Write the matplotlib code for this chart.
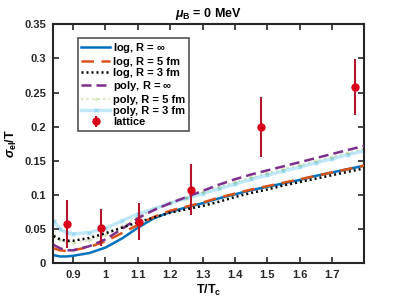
import numpy as np
import matplotlib
matplotlib.use('Agg')
import matplotlib.pyplot as plt

plt.rcParams['font.family'] = ['Liberation Sans', 'DejaVu Sans']
plt.rcParams['font.weight'] = 'bold'
plt.rcParams['mathtext.fontset'] = 'custom'
plt.rcParams['mathtext.it'] = 'Liberation Sans:italic:bold'
plt.rcParams['mathtext.rm'] = 'Liberation Sans:bold'

# T/Tc grid and curves
t = [0.84, 0.86, 0.88, 0.9, 0.95, 1.0, 1.05, 1.1, 1.15, 1.2, 1.25, 1.3, 1.35,
     1.4, 1.45, 1.5, 1.55, 1.6, 1.65, 1.7, 1.75, 1.8]
log_inf = [0.012, 0.010, 0.010, 0.011, 0.015, 0.023, 0.036, 0.052, 0.066, 0.075, 0.082,
           0.088, 0.095, 0.101, 0.107, 0.112, 0.117, 0.122, 0.128, 0.133, 0.138, 0.143]
log_5 = [0.022, 0.019, 0.018, 0.019, 0.024, 0.032, 0.044, 0.056, 0.068, 0.077, 0.083,
         0.089, 0.096, 0.102, 0.108, 0.113, 0.118, 0.123, 0.128, 0.133, 0.138, 0.143]
log_3 = [0.040, 0.035, 0.033, 0.033, 0.037, 0.044, 0.052, 0.060, 0.067, 0.074, 0.079,
         0.084, 0.090, 0.097, 0.103, 0.108, 0.114, 0.119, 0.124, 0.129, 0.134, 0.139]
poly_inf = [0.027, 0.022, 0.019, 0.019, 0.025, 0.035, 0.050, 0.066, 0.078, 0.088, 0.097,
            0.106, 0.115, 0.123, 0.130, 0.136, 0.142, 0.148, 0.154, 0.160, 0.166, 0.172]
poly_5 = [0.040, 0.034, 0.031, 0.030, 0.034, 0.041, 0.054, 0.068, 0.079, 0.088, 0.096,
          0.104, 0.112, 0.119, 0.126, 0.132, 0.138, 0.144, 0.150, 0.156, 0.162, 0.168]
poly_3 = [0.062, 0.050, 0.045, 0.043, 0.045, 0.051, 0.062, 0.072, 0.080, 0.088, 0.095,
          0.102, 0.109, 0.116, 0.123, 0.129, 0.135, 0.141, 0.147, 0.153, 0.159, 0.165]

# lattice points
lat_t = [0.882, 0.985, 1.105, 1.265, 1.48, 1.772]
lat_y = [0.057, 0.052, 0.061, 0.108, 0.199, 0.258]
lat_err = [0.035, 0.027, 0.027, 0.038, 0.044, 0.041]

xticks = [0.9, 1.0, 1.1, 1.2, 1.3, 1.4, 1.5, 1.6, 1.7]
xticklabels = ['0.9', '1', '1.1', '1.2', '1.3', '1.4', '1.5', '1.6', '1.7']
yticks = [0, 0.05, 0.1, 0.15, 0.2, 0.25, 0.3, 0.35]
yticklabels = ['0', '0.05', '0.1', '0.15', '0.2', '0.25', '0.3', '0.35']

fig = plt.figure(figsize=(4.03, 3.03), dpi=100)
ax = fig.add_axes([0.1315, 0.131, 0.7725, 0.789])

ax.plot(t, poly_3, color=(0.301, 0.745, 0.933), alpha=0.35, lw=2.5, marker='x', ms=3,
        label='poly, R = 3 fm', zorder=1)
ax.plot(t, poly_5, color=(0.466, 0.674, 0.188), alpha=0.3, lw=1.5, ls=':', marker='+', ms=3,
        label='poly, R = 5 fm', zorder=1)
ax.plot(t, log_inf, color=(0, 0.447, 0.741), lw=1.8, label=r'log, R = $\infty$', zorder=2)
ax.plot(t, log_5, color=(0.85, 0.325, 0.098), lw=1.8, ls=(0, (5, 3)), label='log, R = 5 fm', zorder=3)
ax.plot(t, log_3, color='k', lw=1.8, ls=(0, (0.8, 1.2)), label='log, R = 3 fm', zorder=4)
ax.plot(t, poly_inf, color=(0.494, 0.184, 0.556), lw=1.8, ls=(0, (4, 2)), label=r'poly, R = $\infty$', zorder=3)
ax.errorbar(lat_t, lat_y, yerr=lat_err, fmt='o', color=(0.70, 0.08, 0.18), mfc=(0.85, 0.0, 0.1),
            mec=(0.85, 0.0, 0.1), ms=5, elinewidth=1.5, capsize=0, label='lattice', zorder=5)

handles, labels = ax.get_legend_handles_labels()
order = ['log, R = $\\infty$', 'log, R = 5 fm', 'log, R = 3 fm', 'poly, R = $\\infty$',
         'poly, R = 5 fm', 'poly, R = 3 fm', 'lattice']
hd = dict(zip(labels, handles))
leg = ax.legend([hd[o] for o in order], order, loc='upper left', bbox_to_anchor=(0.08, 0.943),
                fontsize=8, frameon=True, fancybox=False, handlelength=2.6, handletextpad=0.3,
                labelspacing=0.12, borderpad=0.3, borderaxespad=0)
leg.get_frame().set_edgecolor('#262626')
leg.get_frame().set_linewidth(1.2)

ax.set_xlim(0.838, 1.8)
ax.set_ylim(0, 0.35)
ax.set_xticks(xticks)
ax.set_xticklabels(xticklabels)
ax.set_yticks(yticks)
ax.set_yticklabels(yticklabels)
ax.tick_params(direction='in', top=True, right=True, length=4, width=1.2, labelsize=8,
               colors='#262626', pad=5)
for s in ax.spines.values():
    s.set_linewidth(1.5)
    s.set_color('#262626')

ax.set_xlabel(r'T/T$_\mathrm{c}$', fontsize=9, fontweight='bold', labelpad=2)
ax.set_ylabel(r'$\sigma_\mathrm{el}$/T', fontsize=9, fontweight='bold', labelpad=4)
ax.set_title(r'$\mu_\mathrm{B}$ = 0 MeV', fontsize=9, fontweight='bold', pad=5)

fig.savefig('out.png', dpi=100)
